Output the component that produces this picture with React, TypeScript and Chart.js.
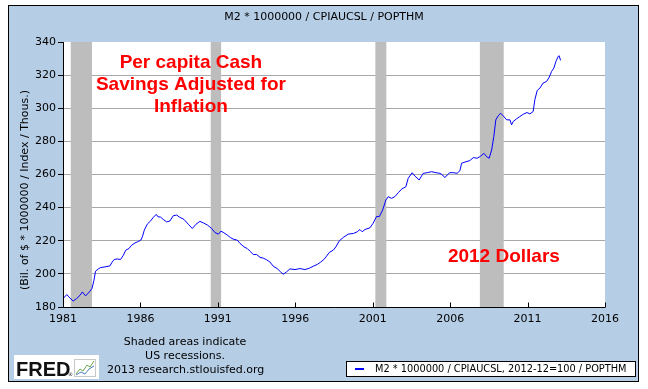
import { useEffect, useRef } from "react";
import { Chart, registerables } from "chart.js";

Chart.register(...registerables);

// ---- Data (decimal years and values) ----
const years = [
  1981.0, 1981.25, 1981.45, 1981.66, 1981.88, 1982.1, 1982.25, 1982.46, 1982.7, 1982.87,
  1983.0, 1983.1, 1983.28, 1983.43, 1983.7, 1984.03, 1984.18, 1984.31, 1984.5, 1984.72,
  1984.9, 1985.05, 1985.26, 1985.43, 1985.65, 1985.8, 1986.03, 1986.14, 1986.25, 1986.44,
  1986.66, 1986.83, 1987.02, 1987.13, 1987.3, 1987.47, 1987.69, 1987.9, 1988.12, 1988.34,
  1988.55, 1988.81, 1989.09, 1989.35, 1989.59, 1989.84, 1990.06, 1990.34, 1990.6, 1990.81,
  1991.03, 1991.2, 1991.39, 1991.61, 1991.83, 1992.04, 1992.25, 1992.43, 1992.69, 1992.9,
  1993.07, 1993.29, 1993.5, 1993.72, 1993.93, 1994.15, 1994.36, 1994.58, 1994.83, 1995.05,
  1995.22, 1995.44, 1995.65, 1995.98, 1996.3, 1996.62, 1996.9, 1997.16, 1997.42, 1997.64,
  1997.85, 1998.02, 1998.19, 1998.45, 1998.62, 1998.84, 1999.1, 1999.42, 1999.75, 2000.0,
  2000.17, 2000.32, 2000.5, 2000.82, 2001.03, 2001.25, 2001.42, 2001.64, 2001.85, 2002.0,
  2002.22, 2002.43, 2002.65, 2002.87, 2003.14, 2003.29, 2003.55, 2003.72, 2004.0, 2004.26,
  2004.52, 2004.8, 2005.08, 2005.34, 2005.51, 2005.66, 2005.81, 2005.98, 2006.2, 2006.45,
  2006.63, 2006.74, 2007.02, 2007.27, 2007.5, 2007.74, 2007.96, 2008.18, 2008.35, 2008.52,
  2008.68, 2008.82, 2008.95, 2009.1, 2009.26, 2009.43, 2009.65, 2009.86, 2009.97, 2010.07,
  2010.29, 2010.5, 2010.76, 2010.97, 2011.15, 2011.36, 2011.47, 2011.62, 2011.8, 2012.0,
  2012.23, 2012.4, 2012.55, 2012.7, 2012.83, 2012.98, 2013.04, 2013.13,
];

const values = [
  185.1, 187.5, 185.4, 183.6, 185.1, 187.1, 189.1, 186.7, 189.1, 191.1,
  196.2, 201.6, 203.0, 203.8, 204.2, 204.8, 207.2, 208.7, 209.0, 208.7,
  211.3, 214.3, 215.3, 217.3, 218.7, 219.3, 220.4, 222.8, 226.4, 230.0,
  232.0, 234.1, 235.9, 234.5, 234.3, 232.9, 231.4, 231.9, 235.1, 235.5,
  234.1, 232.9, 230.0, 227.4, 230.0, 231.7, 230.8, 229.4, 227.4, 225.0,
  224.0, 225.8, 224.8, 223.4, 221.8, 220.8, 220.4, 218.4, 216.3, 215.3,
  213.7, 211.7, 211.7, 210.0, 209.5, 208.5, 207.2, 204.6, 203.2, 201.2,
  199.8, 201.2, 203.0, 202.6, 203.2, 202.6, 203.4, 204.6, 205.7, 207.1,
  208.7, 210.7, 212.9, 214.3, 216.3, 219.9, 222.0, 224.0, 224.4, 225.4,
  226.8, 225.4, 226.8, 227.8, 230.6, 234.7, 234.5, 238.5, 244.6, 246.6,
  245.6, 246.6, 249.0, 251.2, 252.6, 257.7, 261.1, 259.1, 256.7, 260.7,
  261.1, 261.7, 261.1, 260.7, 259.7, 258.1, 259.7, 261.1, 261.1, 260.7,
  262.3, 266.8, 267.7, 268.4, 270.2, 269.8, 271.0, 272.8, 270.8, 269.8,
  274.8, 282.9, 293.0, 295.4, 297.0, 295.4, 293.0, 293.0, 290.0, 292.0,
  293.6, 295.0, 296.6, 297.4, 296.6, 298.0, 305.1, 310.7, 312.2, 315.2,
  316.2, 318.8, 322.2, 324.3, 328.3, 331.3, 331.7, 328.9,
];

const recessionStarts = [1981.5, 1990.54, 2001.17, 2007.92];
const recessionEnds = [1982.87, 1991.21, 2001.88, 2009.46];

const xTicks = [1981, 1986, 1991, 1996, 2001, 2006, 2011, 2016];
const yTicks = [180, 200, 220, 240, 260, 280, 300, 320, 340];

const chartTitle = "M2 * 1000000 / CPIAUCSL / POPTHM";
const yAxisTitle = "(Bil. of $ * 1000000 / Index / Thous.)";
const legendLabel = "M2 * 1000000 / CPIAUCSL, 2012-12=100 / POPTHM";
const noteLines = ["Shaded areas indicate", "US recessions."];
const sourceText = "2013 research.stlouisfed.org";
const annotationLines = ["Per capita Cash", "Savings Adjusted for", "Inflation"];
const annotationAnchor = { x: 1989.26, y: 327.5 };
const annotation2 = "2012 Dollars";
const annotation2Anchor = { x: 2009.47, y: 210.3 };

const FONT = "'DejaVu Sans', Verdana, sans-serif";
const BG = "#B5CDE5";

const fredPlugin = {
  id: "fredDecor",
  beforeDraw(chart: any) {
    const { ctx, chartArea } = chart;
    ctx.save();
    ctx.fillStyle = "#FFFFFF";
    ctx.fillRect(0, 0, chart.width, chart.height);
    ctx.fillStyle = BG;
    ctx.fillRect(8, 5, 631, 377);
    ctx.strokeStyle = "#000";
    ctx.lineWidth = 1;
    ctx.strokeRect(8.5, 5.5, 630, 376);
    ctx.fillStyle = "#FFFFFF";
    ctx.fillRect(chartArea.left, chartArea.top, chartArea.right - chartArea.left, chartArea.bottom - chartArea.top);
    ctx.restore();
  },
  beforeDatasetsDraw(chart: any) {
    const { ctx, chartArea, scales } = chart;
    const xs = scales.x;
    ctx.save();
    ctx.fillStyle = "#BDBDBD";
    for (let i = 0; i < recessionStarts.length; i++) {
      const a = xs.getPixelForValue(recessionStarts[i]);
      const b = xs.getPixelForValue(recessionEnds[i]);
      ctx.fillRect(a, chartArea.top, b - a, chartArea.bottom - chartArea.top);
    }
    ctx.restore();
  },
  afterDatasetsDraw(chart: any) {
    const { ctx, chartArea, scales } = chart;
    const xs = scales.x;
    const ys = scales.y;
    ctx.save();
    // axes
    ctx.strokeStyle = "#000";
    ctx.lineWidth = 1;
    ctx.beginPath();
    const L = Math.round(chartArea.left) + 0.5;
    const B = Math.round(chartArea.bottom) + 0.5;
    ctx.moveTo(L, Math.round(chartArea.top));
    ctx.lineTo(L, B);
    ctx.lineTo(Math.round(chartArea.right), B);
    ctx.stroke();
    // inward x ticks
    ctx.beginPath();
    for (const t of xTicks) {
      const px = Math.round(xs.getPixelForValue(t)) + 0.5;
      ctx.moveTo(px, B);
      ctx.lineTo(px, B - 5);
    }
    ctx.stroke();

    // red annotations
    ctx.fillStyle = "#FF0000";
    ctx.font = "bold 19px 'Liberation Sans', Arial, sans-serif";
    ctx.textAlign = "center";
    ctx.textBaseline = "middle";
    const ax = xs.getPixelForValue(annotationAnchor.x);
    const ay = ys.getPixelForValue(annotationAnchor.y);
    annotationLines.forEach((line, i) => ctx.fillText(line, ax, ay + i * 22));
    ctx.fillText(annotation2, xs.getPixelForValue(annotation2Anchor.x), ys.getPixelForValue(annotation2Anchor.y));
    ctx.restore();
  },
  afterDraw(chart: any) {
    const { ctx } = chart;
    ctx.save();
    ctx.fillStyle = "#000";
    ctx.textBaseline = "middle";
    // title
    ctx.font = `11px ${FONT}`;
    ctx.textAlign = "center";
    ctx.fillText(chartTitle, 324, 17);

    // y axis title (rotated)
    ctx.save();
    ctx.translate(25, 190);
    ctx.rotate(-Math.PI / 2);
    ctx.font = `11px ${FONT}`;
    const w = ctx.measureText(yAxisTitle).width;
    const fs = Math.min(11, (11 * 206) / w);
    ctx.font = `${fs}px ${FONT}`;
    ctx.fillText(yAxisTitle, 0, 0);
    ctx.restore();

    // footer notes
    ctx.font = `11px ${FONT}`;
    ctx.textAlign = "center";
    ctx.fillText(noteLines[0], 185, 342);
    ctx.fillText(noteLines[1], 185, 356);
    ctx.textAlign = "left";
    ctx.fillText(sourceText, 107, 370);

    // FRED logo
    ctx.fillStyle = "#FFFFFF";
    ctx.fillRect(14, 355, 85, 24);
    ctx.fillStyle = "#111";
    ctx.font = "bold 20px 'Liberation Sans', Arial, sans-serif";
    ctx.textBaseline = "alphabetic";
    ctx.fillText("FRED", 16, 376);
    ctx.font = `5px ${FONT}`;
    ctx.fillText("®", 68, 376);
    // small icon
    ctx.strokeStyle = "#c8c8c8";
    ctx.lineWidth = 1;
    ctx.strokeRect(74.5, 359.5, 21, 17);
    ctx.strokeStyle = "#6aa84f";
    ctx.beginPath();
    ctx.moveTo(76, 374); ctx.lineTo(80, 369); ctx.lineTo(83, 371); ctx.lineTo(87, 365); ctx.lineTo(90, 367); ctx.lineTo(94, 361);
    ctx.stroke();
    ctx.strokeStyle = "#4a7fc1";
    ctx.beginPath();
    ctx.moveTo(76, 375); ctx.lineTo(81, 372); ctx.lineTo(85, 374); ctx.lineTo(89, 369); ctx.lineTo(94, 366);
    ctx.stroke();

    // legend box
    ctx.fillStyle = "#FFFFFF";
    ctx.fillRect(346, 361, 289, 15);
    ctx.strokeStyle = "#000";
    ctx.strokeRect(346.5, 361.5, 289, 15);
    ctx.strokeStyle = "#0000FF";
    ctx.lineWidth = 2;
    ctx.beginPath();
    ctx.moveTo(355, 369);
    ctx.lineTo(364, 369);
    ctx.stroke();
    ctx.fillStyle = "#000";
    ctx.textBaseline = "middle";
    ctx.textAlign = "left";
    ctx.font = `10px ${FONT}`;
    const lw = ctx.measureText(legendLabel).width;
    const lfs = (10 * 252) / lw;
    ctx.font = `${lfs}px ${FONT}`;
    ctx.fillText(legendLabel, 375, 369);
    ctx.restore();
  },
};

export default function App() {
  const ref = useRef<HTMLCanvasElement>(null);
  useEffect(() => {
    const canvas = ref.current!;
    const chart = new Chart(canvas, {
      type: "line",
      data: {
        datasets: [
          {
            data: years.map((x, i) => ({ x, y: values[i] })),
            borderColor: "#0000FF",
            borderWidth: 1,
            pointRadius: 0,
            tension: 0,
            fill: false,
          },
        ],
      },
      options: {
        responsive: false,
        animation: false,
        devicePixelRatio: 1,
        layout: { padding: { left: 0, top: 42, right: 43, bottom: 57 } },
        plugins: {
          legend: { display: false },
          tooltip: { enabled: false },
          title: { display: false },
        },
        scales: {
          x: {
            type: "linear",
            min: 1981,
            max: 2016,
            afterBuildTicks: (s: any) => {
              s.ticks = xTicks.map((v) => ({ value: v }));
            },
            ticks: {
              callback: (v: any) => String(v),
              font: { family: FONT, size: 11 },
              color: "#000",
              padding: 6,
              maxRotation: 0,
              autoSkip: false,
            },
            grid: { display: false, drawTicks: false },
            border: { display: false },
            afterFit: (s: any) => {
              s.height = 25;
            },
          },
          y: {
            min: 180,
            max: 340,
            afterBuildTicks: (s: any) => {
              s.ticks = yTicks.map((v) => ({ value: v }));
            },
            ticks: {
              callback: (v: any) => String(v),
              font: { family: FONT, size: 11 },
              color: "#000",
              padding: 2,
            },
            grid: {
              color: (c: any) =>
                c.tick && (c.tick.value === 180 || c.tick.value === 340) ? "rgba(0,0,0,0)" : "#A8A8A8",
              tickColor: "#000",
              tickLength: 5,
              drawTicks: true,
            },
            border: { display: false },
            afterFit: (s: any) => {
              s.width = 63;
            },
          },
        },
      } as any,
      plugins: [fredPlugin],
    });
    return () => chart.destroy();
  }, []);
  return (
    <div style={{ position: "fixed", left: 0, top: 0, width: 648, height: 389 }}>
      <canvas ref={ref} width={648} height={389} style={{ display: "block", width: 648, height: 389 }} />
    </div>
  );
}
